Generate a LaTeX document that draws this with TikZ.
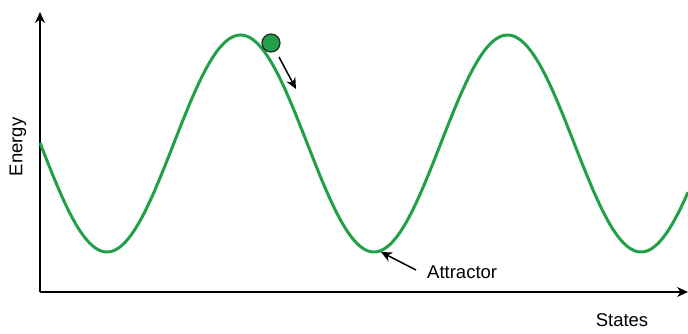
\documentclass[tikz,border=0pt]{standalone}
\usepackage{fontspec}
\setmainfont{Liberation Sans}
\usetikzlibrary{arrows.meta}
\definecolor{curvegreen}{RGB}{34,160,72}
\tikzset{
  axisline/.style={line width=1.4pt, -{Stealth[length=11pt,width=10pt]}},
  energycurve/.style={curvegreen, line width=3pt},
  pointer/.style={line width=1.5pt, -{Stealth[length=11pt,width=10pt]}},
  lbl/.style={font=\fontsize{18.5}{22}\selectfont, inner sep=0pt},
  ball/.style={circle, fill=curvegreen, draw=black!85, line width=1.2pt, minimum size=18pt, inner sep=0pt}
}
\begin{document}
\begin{tikzpicture}[x=1pt,y=-1pt]
\useasboundingbox (0,0) rectangle (688,333);
\coordinate (origin) at (40,292);
\coordinate (ytop) at (40,12);
\coordinate (xend) at (688,292);
\draw[axisline] (origin) -- (ytop);
\draw[axisline] (origin) -- (xend);
\draw[energycurve] plot[domain=40:688, samples=240, smooth] (\x, {143.5+108.5*cos(1.348315*(\x-107))});
\node[ball] (ballnode) at (271,43) {};
\coordinate (balltail) at (279,57);
\coordinate (balltip) at (296,89);
\draw[pointer] (balltail) -- (balltip);
\node[lbl, anchor=west] (attr) at (427,272) {Attractor};
\coordinate (attrtail) at (416,270);
\coordinate (attrtip) at (381,252);
\draw[pointer] (attrtail) -- (attrtip);
\node[lbl, rotate=90] (energy) at (18,147) {Energy};
\node[lbl] (states) at (622,320) {States};
\end{tikzpicture}
\end{document}
